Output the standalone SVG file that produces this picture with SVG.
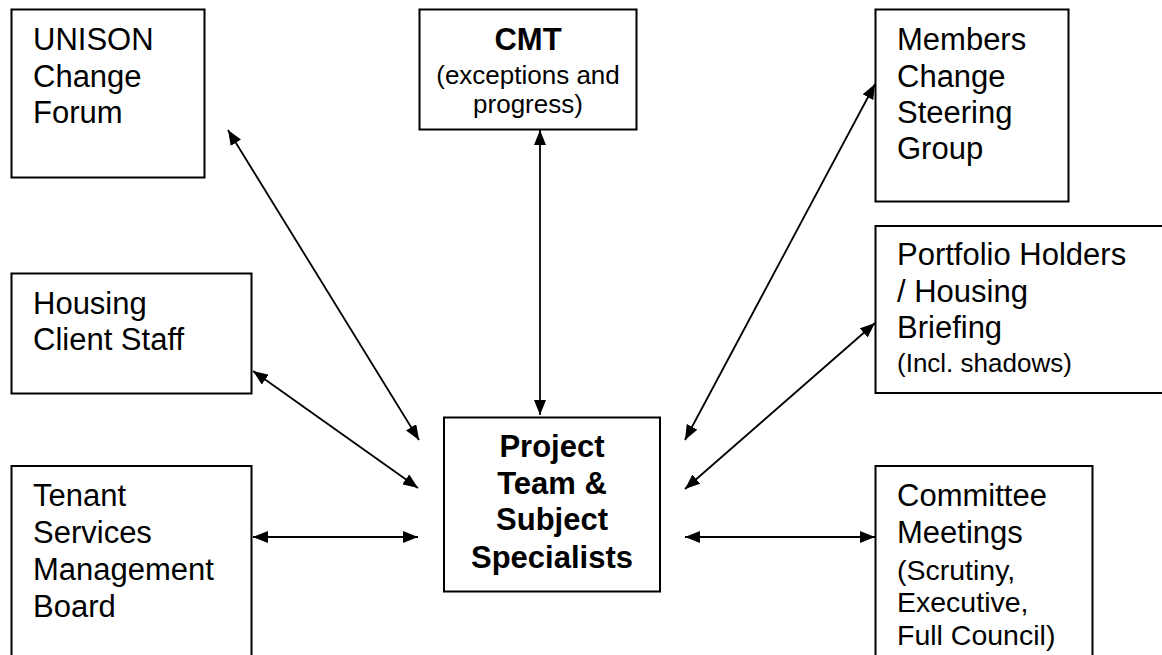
<svg xmlns="http://www.w3.org/2000/svg" width="1162" height="655" viewBox="0 0 1162 655">
<style>
.box{fill:#fff;stroke:#000;stroke-width:2}
.t{font-family:"Liberation Sans",Arial,sans-serif;font-size:31px;fill:#000}
.s{font-size:26px}
.m{font-size:28.5px}
.b{font-weight:bold}
.c{text-anchor:middle}
.con line{stroke:#000;stroke-width:1.8;marker-start:url(#ah);marker-end:url(#ah)}
</style>
<defs>
<marker id="ah" viewBox="0 0 15 12" refX="15" refY="6" markerWidth="15" markerHeight="12" markerUnits="userSpaceOnUse" orient="auto-start-reverse">
<path d="M0,0 L15,6 L0,12 Z" fill="#000"/>
</marker>
</defs>
<rect width="1162" height="655" fill="#fff"/>
<g id="unison">
<rect class="box" x="11.5" y="9.5" width="193" height="168"/>
<text class="t" x="33" y="50">UNISON</text>
<text class="t" x="33" y="87">Change</text>
<text class="t" x="33" y="123">Forum</text>
</g>
<g id="cmt">
<rect class="box" x="419.5" y="9.5" width="217" height="120"/>
<text class="t b c" x="528" y="50">CMT</text>
<text class="t s c" x="528" y="84">(exceptions and</text>
<text class="t s c" x="528" y="113">progress)</text>
</g>
<g id="members">
<rect class="box" x="875.5" y="9.5" width="193" height="192"/>
<text class="t" x="897" y="50">Members</text>
<text class="t" x="897" y="87">Change</text>
<text class="t" x="897" y="123">Steering</text>
<text class="t" x="897" y="159">Group</text>
</g>
<g id="housing">
<rect class="box" x="11.5" y="273.5" width="240" height="120"/>
<text class="t" x="33" y="314">Housing</text>
<text class="t" x="33" y="350">Client Staff</text>
</g>
<g id="portfolio">
<rect class="box" x="875.5" y="226" width="300" height="167"/>
<text class="t" x="897" y="265">Portfolio Holders</text>
<text class="t" x="897" y="302">/ Housing</text>
<text class="t" x="897" y="338">Briefing</text>
<text class="t s" x="897" y="372">(Incl. shadows)</text>
</g>
<g id="tenant">
<rect class="box" x="11.5" y="466" width="240" height="200"/>
<text class="t" x="33" y="506">Tenant</text>
<text class="t" x="33" y="543">Services</text>
<text class="t" x="33" y="580">Management</text>
<text class="t" x="33" y="617">Board</text>
</g>
<g id="project">
<rect class="box" x="444" y="417.5" width="216" height="174"/>
<text class="t b c" x="552" y="457">Project</text>
<text class="t b c" x="552" y="494">Team &amp;</text>
<text class="t b c" x="552" y="530">Subject</text>
<text class="t b c" x="552" y="568">Specialists</text>
</g>
<g id="committee">
<rect class="box" x="875.5" y="466" width="217" height="200"/>
<text class="t" x="897" y="506">Committee</text>
<text class="t" x="897" y="543">Meetings</text>
<text class="t m" x="897" y="580">(Scrutiny,</text>
<text class="t m" x="897" y="612">Executive,</text>
<text class="t m" x="897" y="645">Full Council)</text>
</g>
<g id="connectors" class="con">
<line x1="228" y1="130" x2="419" y2="440"/>
<line x1="253" y1="371" x2="418" y2="488"/>
<line x1="253" y1="537" x2="418" y2="537"/>
<line x1="540" y1="130" x2="540" y2="415"/>
<line x1="875" y1="84" x2="685" y2="440"/>
<line x1="875" y1="323" x2="685" y2="489"/>
<line x1="685" y1="537" x2="875" y2="537"/>
</g>
</svg>
